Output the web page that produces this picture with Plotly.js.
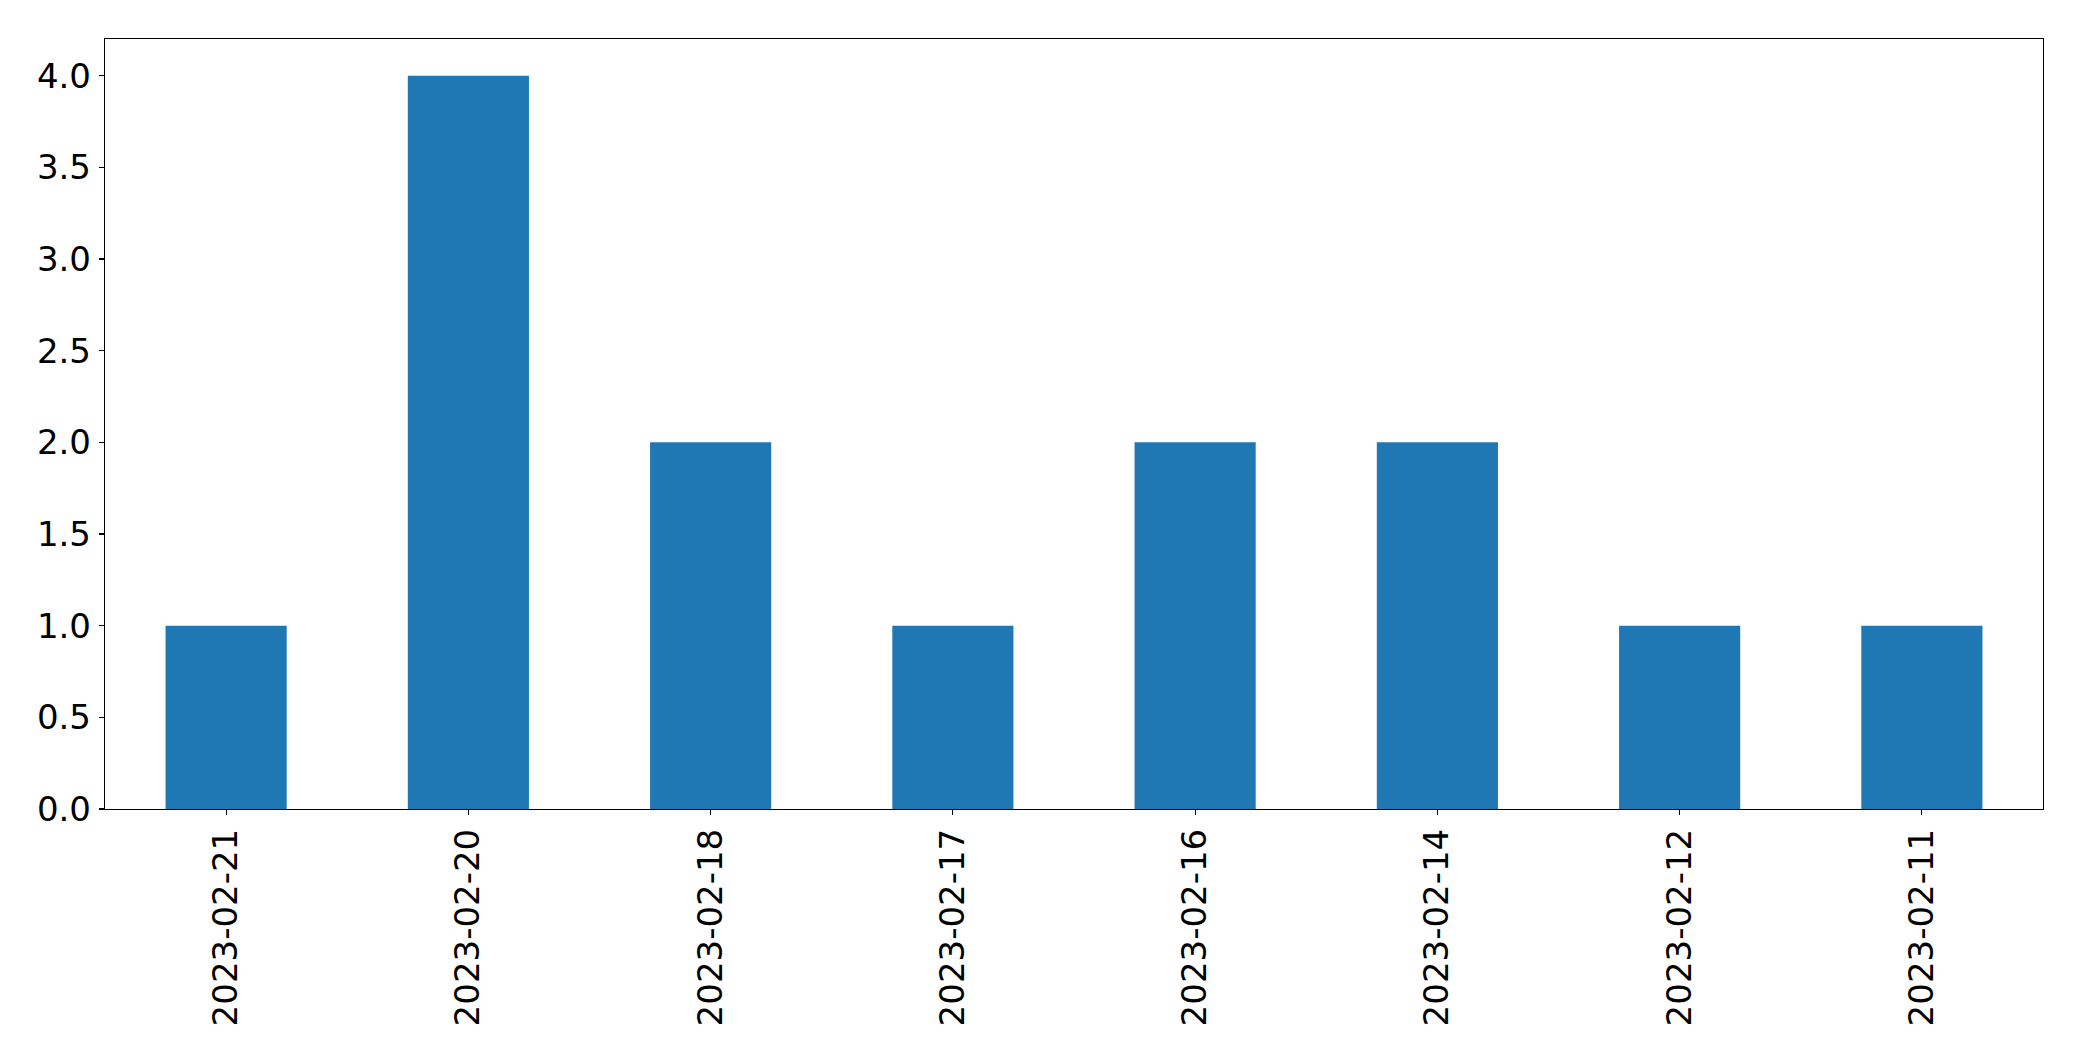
<!DOCTYPE html>
<html>
<head>
<meta charset="utf-8">
<script src="https://cdn.plot.ly/plotly-3.0.1.min.js"></script>
<style>html,body{margin:0;padding:0;background:#fff;}#chart{width:2082px;height:1061px;}</style>
</head>
<body>
<div id="chart"></div>
<script>
const dates = ["2023-02-21","2023-02-20","2023-02-18","2023-02-17","2023-02-16","2023-02-14","2023-02-12","2023-02-11"];
const counts = [1, 4, 2, 1, 2, 2, 1, 1];
const yTicks = [0, 0.5, 1, 1.5, 2, 2.5, 3, 3.5, 4];
const yTickText = ["0.0","0.5","1.0","1.5","2.0","2.5","3.0","3.5","4.0"];

const trace = {
  type: 'bar',
  x: dates,
  y: counts,
  width: 0.5,
  marker: {color: '#1f77b4', line: {width: 0}},
  hoverinfo: 'x+y'
};
const font = {family: 'DejaVu Sans, sans-serif', size: 34, color: '#000'};
const layout = {
  width: 2082, height: 1061,
  margin: {l: 105, r: 39, t: 39, b: 252, pad: 0},
  paper_bgcolor: '#fff', plot_bgcolor: '#fff',
  showlegend: false,
  font: font,
  xaxis: {
    type: 'category',
    range: [-0.5, 7.5],
    showline: true, mirror: true, linecolor: '#000', linewidth: 1.2,
    showgrid: false, zeroline: false,
    ticks: 'outside', ticklen: 5, tickwidth: 1.2, tickcolor: '#000',
    tickangle: -90,
    ticklabelstandoff: 0,
    tickfont: font
  },
  yaxis: {
    range: [0, 4.2],
    tickvals: yTicks, ticktext: yTickText,
    showline: true, mirror: true, linecolor: '#000', linewidth: 1.2,
    showgrid: false, zeroline: false,
    ticks: 'outside', ticklen: 5, tickwidth: 1.2, tickcolor: '#000',
    ticklabelstandoff: 1,
    tickfont: font
  }
};
Plotly.newPlot('chart', [trace], layout, {displayModeBar: false, staticPlot: true});
</script>
</body>
</html>
